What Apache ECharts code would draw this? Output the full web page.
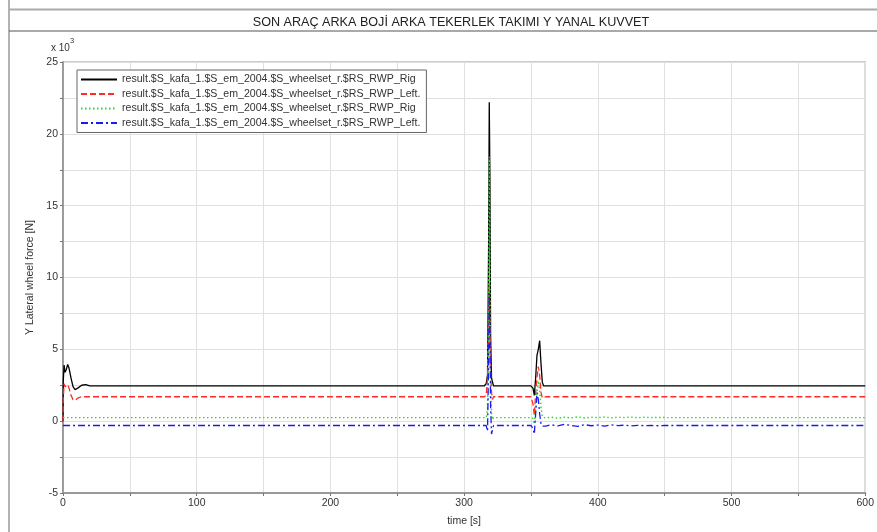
<!DOCTYPE html>
<html>
<head>
<meta charset="utf-8">
<script src="https://cdn.jsdelivr.net/npm/echarts@6/dist/echarts.min.js"></script>
<style>
  html, body { margin: 0; padding: 0; background: #fff; }
  #chart { width: 877px; height: 532px; }
</style>
</head>
<body>
<div id="chart"></div>
<script>
// Simulation time samples [s]
const timeS = [
  0, 0.2, 0.8, 1.5, 2.5, 3.5, 4.5, 6, 7.5, 9,
  11, 14, 17, 20, 30, 150, 310, 315, 316.5, 317.5,
  318.3, 318.8, 319.3, 319.8, 320.5, 321.2, 322, 323, 330, 350,
  351.5, 352.5, 353.5, 354.5, 355.5, 356.5, 357.5, 358.5, 359.5, 361,
  365, 370, 375, 380, 385, 390, 395, 400, 405, 410,
  415, 420, 425, 430, 435, 440, 445, 450, 460, 600
];

// Lateral wheel force, in units of 10^3 N
const rightA = [
  0, 2.8, 3.9, 3.4, 3.6, 3.95, 3.7, 3.0, 2.4, 2.2,
  2.3, 2.5, 2.55, 2.45, 2.45, 2.45, 2.45, 2.45, 2.6, 3.2,
  12, 22.2, 17, 6, 3.0, 2.9, 2.45, 2.45, 2.45, 2.45,
  2.3, 1.8, 3.0, 4.6, 5.0, 5.6, 4.0, 2.7, 2.45, 2.45,
  2.45, 2.45, 2.45, 2.45, 2.45, 2.45, 2.45, 2.45, 2.45, 2.45,
  2.45, 2.45, 2.45, 2.45, 2.45, 2.45, 2.45, 2.45, 2.45, 2.45
];
const leftA = [
  0, 1.5, 2.6, 2.4, 2.3, 2.55, 2.3, 1.8, 1.5, 1.45,
  1.6, 1.7, 1.7, 1.7, 1.7, 1.7, 1.7, 1.7, 1.8, 3.0,
  6, 9.6, 7, 3.5, 2.0, 1.5, 1.7, 1.7, 1.7, 1.7,
  1.2, 0.4, 2.0, 3.0, 3.8, 3.2, 2.0, 1.6, 1.7, 1.7,
  1.7, 1.7, 1.7, 1.7, 1.7, 1.7, 1.7, 1.7, 1.7, 1.7,
  1.7, 1.7, 1.7, 1.7, 1.7, 1.7, 1.7, 1.7, 1.7, 1.7
];
const rightB = [
  0.25, 0.25, 0.25, 0.25, 0.25, 0.25, 0.25, 0.25, 0.25, 0.25,
  0.25, 0.25, 0.25, 0.25, 0.25, 0.25, 0.25, 0.25, 0.25, 0.8,
  8, 18.4, 12, 3, 0.5, 0.1, 0.25, 0.25, 0.25, 0.25,
  0.2, -0.2, 0.8, 2.0, 2.8, 2.2, 1.0, 0.3, 0.25, 0.22,
  0.28, 0.2, 0.27, 0.23, 0.3, 0.22, 0.27, 0.24, 0.29, 0.23,
  0.27, 0.25, 0.28, 0.24, 0.27, 0.25, 0.26, 0.25, 0.25, 0.25
];
const leftB = [
  -0.3, -0.3, -0.3, -0.3, -0.3, -0.3, -0.3, -0.3, -0.3, -0.3,
  -0.3, -0.3, -0.3, -0.3, -0.3, -0.3, -0.3, -0.3, -0.3, -0.7,
  4, 8.9, 6, 1, -0.9, -0.6, -0.3, -0.3, -0.3, -0.3,
  -0.5, -0.9, 0.5, 2.0, 1.5, 0.5, -0.2, -0.35, -0.3, -0.35,
  -0.25, -0.33, -0.22, -0.3, -0.36, -0.24, -0.32, -0.27, -0.34, -0.26,
  -0.31, -0.28, -0.33, -0.29, -0.31, -0.3, -0.32, -0.3, -0.3, -0.3
];

const legendLabels = [
  'result.$S_kafa_1.$S_em_2004.$S_wheelset_r.$RS_RWP_Rig',
  'result.$S_kafa_1.$S_em_2004.$S_wheelset_r.$RS_RWP_Left.',
  'result.$S_kafa_1.$S_em_2004.$S_wheelset_r.$RS_RWP_Rig',
  'result.$S_kafa_1.$S_em_2004.$S_wheelset_r.$RS_RWP_Left.'
];
const seriesKeys = ['s1', 's2', 's3', 's4'];
const yTicks = [-5, 0, 5, 10, 15, 20, 25];
const xTicks = [0, 100, 200, 300, 400, 500, 600];

const pairs = vals => timeS.map((t, i) => [t, vals[i]]);
const FONT = '"Liberation Sans", Arial, sans-serif';

const chart = echarts.init(document.getElementById('chart'), null, { renderer: 'canvas' });

const styles = [
  { color: '#000000', type: 'solid', width: 1.3 },
  { color: '#ff2a2a', type: [6, 3], width: 1.3 },
  { color: '#22dd22', type: [1.5, 2.5], width: 1.4 },
  { color: '#1a1aee', type: [7, 3, 2, 3], width: 1.3 }
];
const values = [rightA, leftA, rightB, leftB];

chart.setOption({
  animation: false,
  backgroundColor: '#fff',
  textStyle: { fontFamily: FONT },
  title: {
    text: 'SON ARAÇ ARKA BOJİ ARKA TEKERLEK TAKIMI Y YANAL KUVVET',
    left: 446, top: 11, textAlign: 'center',
    textStyle: { fontFamily: FONT, fontSize: 12.6, fontWeight: 'normal', color: '#222' }
  },
  graphic: [
    { type: 'line', shape: { x1: 9, y1: 0, x2: 9, y2: 532 }, style: { stroke: '#999', lineWidth: 1.5 } },
    { type: 'line', shape: { x1: 9, y1: 9.5, x2: 877, y2: 9.5 }, style: { stroke: '#aaa', lineWidth: 2 } },
    { type: 'line', shape: { x1: 9, y1: 31, x2: 877, y2: 31 }, style: { stroke: '#555', lineWidth: 1.2 } },
    {
      type: 'text', left: 51, top: 37,
      style: {
        text: '{a|x 10}{s|3}',
        rich: {
          a: { fontFamily: FONT, fontSize: 10, fill: '#333', verticalAlign: 'bottom', padding: [6, 0, 0, 0] },
          s: { fontFamily: FONT, fontSize: 7.5, fill: '#333', verticalAlign: 'top' }
        }
      }
    }
  ],
  legend: {
    orient: 'vertical',
    left: 77, top: 70,
    padding: [4, 6, 4, 3],
    itemGap: 3.5,
    itemWidth: 36, itemHeight: 11,
    backgroundColor: '#fff',
    borderColor: '#666', borderWidth: 1,
    // only the line sample is shown for each entry, no marker
    itemStyle: { opacity: 0 },
    data: seriesKeys,
    formatter: name => legendLabels[seriesKeys.indexOf(name)],
    textStyle: { fontFamily: FONT, fontSize: 10.6, color: '#333' }
  },
  grid: {
    left: 63, right: 6, top: 62, bottom: 39,
    show: true, borderColor: '#bbb', borderWidth: 1.5, backgroundColor: '#fff'
  },
  xAxis: {
    type: 'value', min: 0, max: 600, interval: 50,
    name: 'time [s]', nameLocation: 'middle', nameGap: 23,
    nameTextStyle: { fontFamily: FONT, fontSize: 10.5, color: '#333' },
    axisLine: { show: true, onZero: false, lineStyle: { color: '#999', width: 2 } },
    axisTick: { show: true, inside: false, length: 3, lineStyle: { color: '#777' } },
    axisLabel: {
      fontFamily: FONT, fontSize: 10.5, color: '#333', margin: 5,
      formatter: v => (xTicks.indexOf(v) >= 0 ? String(v) : '')
    },
    splitLine: { show: true, lineStyle: { color: '#e0e0e0', width: 1 } }
  },
  yAxis: {
    type: 'value', min: -5, max: 25, interval: 2.5,
    name: 'Y Lateral wheel force [N]', nameLocation: 'middle', nameGap: 27, nameRotate: 90,
    nameTextStyle: { fontFamily: FONT, fontSize: 10.5, color: '#333' },
    axisLine: { show: true, onZero: false, lineStyle: { color: '#888', width: 1.5 } },
    axisTick: { show: true, inside: false, length: 3, lineStyle: { color: '#777' } },
    axisLabel: {
      fontFamily: FONT, fontSize: 10.5, color: '#333', margin: 5,
      formatter: v => (yTicks.indexOf(v) >= 0 ? String(v) : '')
    },
    splitLine: { show: true, lineStyle: { color: '#e0e0e0', width: 1 } }
  },
  series: seriesKeys.map((key, i) => ({
    name: key,
    type: 'line',
    data: pairs(values[i]),
    symbol: 'none',
    showSymbol: false,
    lineStyle: styles[i],
    itemStyle: { color: styles[i].color },
    emphasis: { disabled: true }
  }))
});
</script>
</body>
</html>
